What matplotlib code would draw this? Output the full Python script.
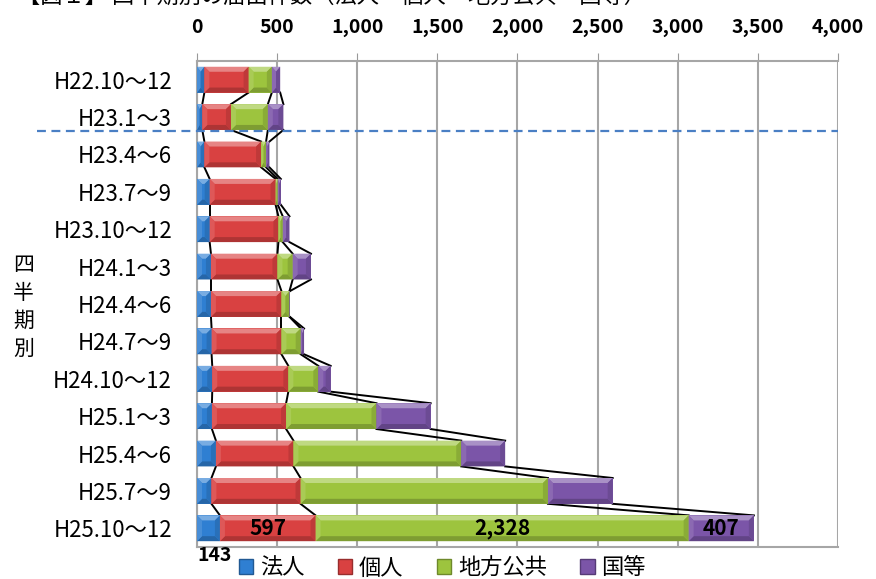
import numpy as np
import matplotlib.pyplot as plt
from matplotlib.patches import Polygon, Patch

plt.rcParams['font.family'] = ['Noto Sans CJK JP', 'DejaVu Sans']

# Data
periods = ['H22.10～12', 'H23.1～3', 'H23.4～6', 'H23.7～9', 'H23.10～12',
           'H24.1～3', 'H24.4～6', 'H24.7～9', 'H24.10～12', 'H25.1～3',
           'H25.4～6', 'H25.7～9', 'H25.10～12']
houjin = [46, 33, 46, 79, 79, 87, 87, 91, 95, 93, 118, 90, 143]
kojin = [276, 179, 354, 411, 429, 415, 440, 436, 475, 463, 484, 556, 597]
chihou = [145, 230, 31, 14, 27, 95, 50, 120, 187, 564, 1047, 1544, 2328]
kuni = [52, 97, 21, 19, 42, 114, 3, 21, 77, 338, 274, 404, 407]
series_names = ['法人', '個人', '地方公共', '国等']
colors = ['#2f7fd2', '#d94141', '#9dc43e', '#7b55a8']
xticks = [0, 500, 1000, 1500, 2000, 2500, 3000, 3500, 4000]


def shade(c, f):
    rgb = np.array(plt.matplotlib.colors.to_rgb(c))
    if f > 0:
        return tuple(rgb + (1 - rgb) * f)
    return tuple(rgb * (1 + f))


fig = plt.figure(figsize=(8.76, 5.79), dpi=100)
ax = fig.add_axes([0.2249, 0.0553, 0.7317, 0.8394])

data = np.array([houjin, kojin, chihou, kuni], dtype=float)
y = np.arange(len(periods))
h = 0.69
lefts = np.zeros(len(periods))

# pixel -> data conversion for the bevel
px_x = 4000 / 641.0
px_y = 13 / 486.0
bev = 5

for k in range(4):
    ax.barh(y, data[k], left=lefts, height=h, color=colors[k], zorder=3)
    for i in range(len(periods)):
        x0, w = lefts[i], data[k][i]
        if w <= 0:
            continue
        top, bot = y[i] - h / 2, y[i] + h / 2
        dx = min(bev * px_x, w / 2)
        dy = bev * px_y
        faces = [
            ([(x0, top), (x0 + w, top), (x0 + w - dx, top + dy), (x0 + dx, top + dy)], 0.35),
            ([(x0, bot), (x0 + w, bot), (x0 + w - dx, bot - dy), (x0 + dx, bot - dy)], -0.2),
            ([(x0, top), (x0 + dx, top + dy), (x0 + dx, bot - dy), (x0, bot)], 0.12),
            ([(x0 + w, top), (x0 + w - dx, top + dy), (x0 + w - dx, bot - dy), (x0 + w, bot)], -0.12),
        ]
        for pts, f in faces:
            ax.add_patch(Polygon(pts, closed=True, facecolor=shade(colors[k], f),
                                 edgecolor='none', zorder=4))
    lefts = lefts + data[k]

# series lines between adjacent bars
cum = np.cumsum(data, axis=0)
for k in range(4):
    for i in range(len(periods) - 1):
        ax.plot([cum[k][i], cum[k][i + 1]], [y[i] + h / 2, y[i + 1] - h / 2],
                color='black', lw=1.4, zorder=2.5)

# labels on the last bar
last = len(periods) - 1
ax.text(cum[0][last] + kojin[last] / 2, y[last], f'{kojin[last]:,}',
        ha='center', va='center', fontsize=15, fontweight='bold', zorder=5)
ax.text(cum[1][last] + chihou[last] / 2, y[last], f'{chihou[last]:,}',
        ha='center', va='center', fontsize=15, fontweight='bold', zorder=5)
ax.text(cum[2][last] + kuni[last] / 2, y[last], f'{kuni[last]:,}',
        ha='center', va='center', fontsize=15, fontweight='bold', zorder=5)
ax.text(0, y[last] + 0.74, f'{houjin[last]:,}', ha='left', va='center',
        fontsize=14, fontweight='bold', clip_on=False)

# dashed divider
ax.plot([-1000, 4000], [1.37, 1.37], color='#4a7fc4', lw=1.6, ls=(0, (4, 2.5)),
        clip_on=False, zorder=6)

ax.set_xlim(0, 4000)
ax.set_ylim(len(periods) - 0.5, -0.5)
ax.set_xticks(xticks)
ax.set_xticklabels([f'{v:,}' for v in xticks], fontsize=14, fontweight='bold')
ax.xaxis.tick_top()
ax.tick_params(axis='x', length=6, color='#999999', pad=11)
ax.set_yticks(y)
ax.set_yticklabels(periods, fontsize=16)
ax.tick_params(axis='y', length=0, pad=18)
ax.grid(axis='x', color='#a6a6a6', lw=1.5, zorder=0)
for s in ['top', 'left', 'bottom']:
    ax.spines[s].set_color('#a6a6a6')
    ax.spines[s].set_linewidth(1.5)
ax.spines['right'].set_visible(False)

fig.text(0.027, 0.47, '四\n半\n期\n別', ha='center', va='center', fontsize=15,
         linespacing=1.35)
fig.text(0.02, 1.006, '【図１】 四半期別の届出件数（法人・個人・地方公共・国等）',
         ha='left', va='center', fontsize=16)

handles = [Patch(facecolor=c, edgecolor=shade(c, -0.3)) for c in colors]
fig.legend(handles, series_names, loc='center', bbox_to_anchor=(0.505, 0.019),
           ncol=4, frameon=False, fontsize=16, handlelength=0.65, handleheight=0.65,
           handletextpad=0.3, columnspacing=1.5)

plt.savefig('out.png', dpi=100)
